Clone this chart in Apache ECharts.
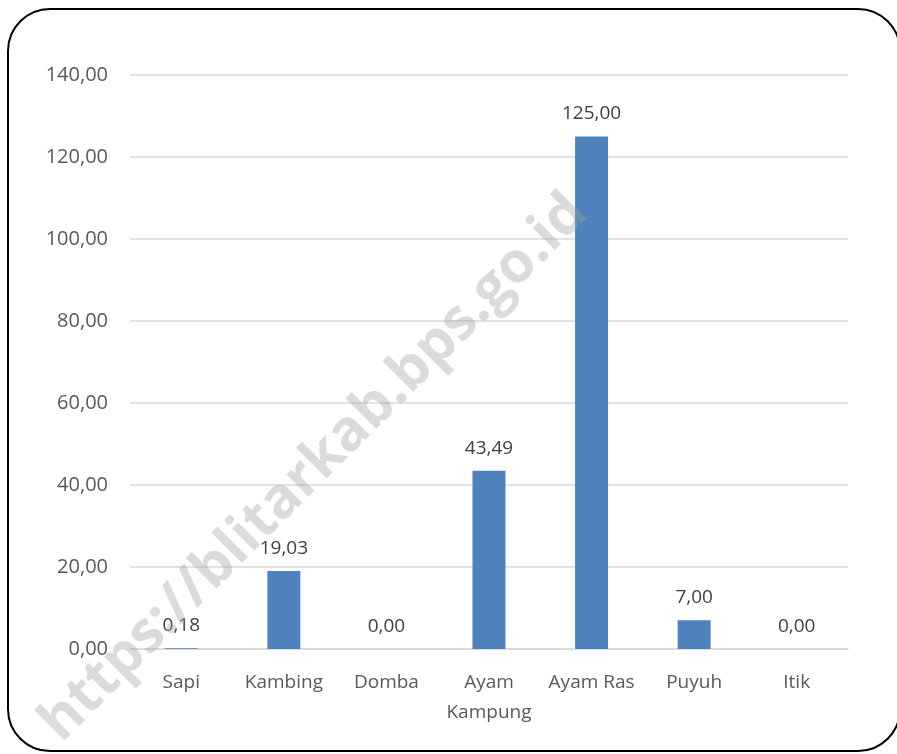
<!DOCTYPE html>
<html>
<head>
<meta charset="utf-8">
<script src="https://cdn.jsdelivr.net/npm/echarts@6/dist/echarts.min.js"></script>
<style>
html,body{margin:0;padding:0;background:#fff;}
#chart{width:897px;height:754px;}
</style>
</head>
<body>
<div id="chart"></div>
<script>
var categories = ['Sapi','Kambing','Domba','Ayam\nKampung','Ayam Ras','Puyuh','Itik'];
var values = [0.18,19.03,0,43.49,125,7,0];
var yTicks = {min:0,max:140,interval:20};

function fmt(v){
	return Number(v).toFixed(2).replace('.',',');
}

var myChart = echarts.init(document.getElementById('chart'));
var option = {
	animation:false,
	textStyle:{fontFamily:'Open Sans'},
	grid:{left:130,right:49,top:75,bottom:105},
	xAxis:{
		type:'category',
		data:categories,
		axisLine:{lineStyle:{color:'#d9d9d9',width:1.5}},
		axisTick:{show:false},
		axisLabel:{color:'#595959',fontSize:19,margin:19,lineHeight:30,interval:0}
	},
	yAxis:{
		type:'value',
		min:yTicks.min,
		max:yTicks.max,
		interval:yTicks.interval,
		axisLine:{show:false},
		axisTick:{show:false},
		splitLine:{lineStyle:{color:'#d9d9d9',width:1.5}},
		axisLabel:{color:'#595959',fontSize:20,margin:22,formatter:fmt}
	},
	series:[{
		type:'bar',
		data:values,
		barWidth:33,
		itemStyle:{color:'#4f81bd'},
		label:{
			show:true,
			position:'top',
			distance:13,
			color:'#404040',
			fontSize:19,
			formatter:function(p){return fmt(p.value);}
		}
	}],
	graphic:[
		{
			type:'rect',
			z:100,
			shape:{x:8,y:9,width:892,height:742,r:42},
			style:{fill:'none',stroke:'#000',lineWidth:2}
		},
		{
			type:'text',
			z:50,
			x:314,
			y:468,
			rotation:Math.PI/4,
			style:{
				text:'https://blitarkab.bps.go.id',
				fontSize:57,
				fontWeight:'bold',
				fontFamily:'Open Sans',
				fill:'rgba(160,160,160,0.38)',
				align:'center',
				verticalAlign:'middle'
			}
		}
	]
};
myChart.setOption(option);
</script>
</body>
</html>
